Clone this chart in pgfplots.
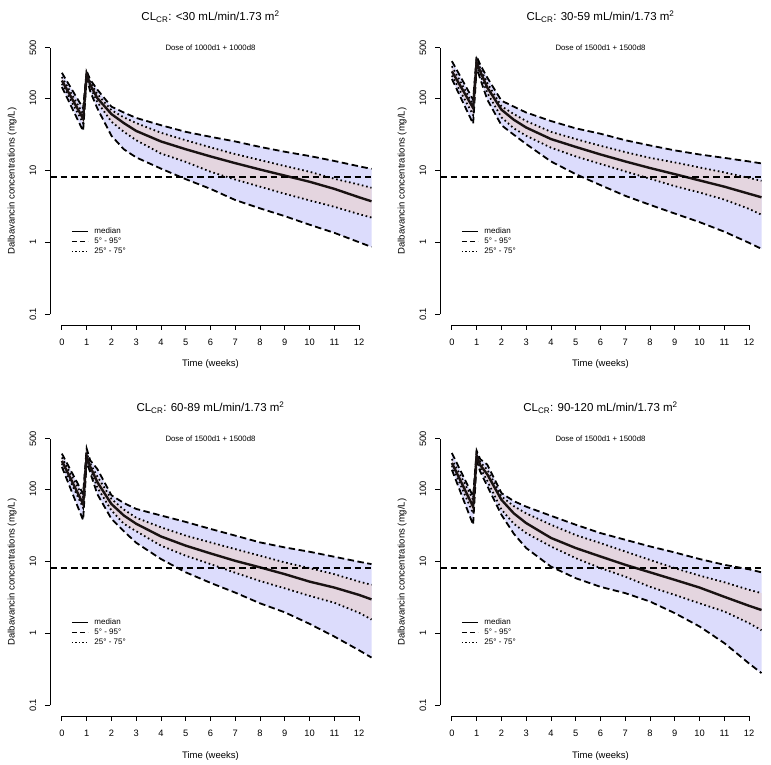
\documentclass[border=0pt]{standalone}
\usepackage{fontspec}
\setmainfont{Liberation Sans}
\usepackage{pgfplots}
\pgfplotsset{compat=1.18}
\usepackage{pgfplotstable}
\usepgfplotslibrary{fillbetween}

\definecolor{lav}{RGB}{220,220,252}
\definecolor{pinkb}{RGB}{228,213,223}
\definecolor{med}{RGB}{25,18,18}

\pgfplotstableread{
t q05 q25 q50 q75 q95
0 142 158 175 196 224
0.857 35 45 52 60 72
1 190 204 215 224 236
1.143 124 142 153 166 180
1.43 72 88 100 114 131
2 30 47 60 68 76
2.5 19.5 34 45 54 63
3 15 26 35 45 53
4 10.5 17 25 33 42
5 7.5 13 19.5 26 34
6 5.5 9.5 15.5 20.7 29
7 3.85 7.4 12.5 16.7 25
8 2.95 5.9 10.2 13.8 21
9 2.3 4.7 8.4 11.4 18
10 1.75 3.8 6.9 9.5 15.7
11 1.35 3.1 5.5 7.6 13.4
12 1.0 2.45 4.2 6.3 11.3
12.5 0.86 2.2 3.7 5.7 10.4
}\TLdata

\pgfplotstableread{
t q05 q25 q50 q75 q95
0 184 205 235 276 325
0.857 44 58 73 81 95
1 263 292 315 343 380
1.143 185 212 235 258 290
1.43 95 118 140 162 192
2 42 54 69 77 92
2.5 31 38 50 60 76
3 23 30 39 48 63
4 13.2 20.5 27 34 48
5 8.8 15.5 21 27 38
6 6.2 12.2 16.5 21.8 32
7 4.4 9.6 13.2 17.8 26
8 3.3 7.6 10.7 14.8 22
9 2.5 6.0 8.8 12.8 18.8
10 1.9 4.9 7.2 10.9 16.5
11 1.4 3.9 5.9 9.3 14.8
12 0.98 2.9 4.7 7.8 13.2
12.5 0.81 2.4 4.2 7.1 12.4
}\TRdata

\pgfplotstableread{
t q05 q25 q50 q75 q95
0 203 226 246 274 310
0.857 37 55 62 77 86
1 238 265 286 318 365
1.143 170 190 205 225 250
1.43 85 105 125 150 190
2 38.6 50.5 62 73 82
2.5 26 33 43 52 64
3 18 26 33 40 53
4 10.7 16.4 22 29.5 43
5 7.0 11.9 16.4 22.6 35
6 5.0 9.1 12.8 18.2 28
7 3.66 6.9 10.1 14.7 22.6
8 2.6 5.3 8.2 11.9 18.2
9 1.95 4.2 6.6 9.6 15.5
10 1.35 3.3 5.2 8.0 13.5
11 0.9 2.65 4.3 6.6 11.5
12 0.58 1.92 3.4 5.2 9.8
12.5 0.46 1.55 2.95 4.7 9.1
}\BLdata

\pgfplotstableread{
t q05 q25 q50 q75 q95
0 185 211 230 261 316
0.857 32 46 57 71 79
1 242 269 290 316 340
1.143 175 195 215 235 260
1.43 110 130 160 186 218
2 44 52 71 79 88
2.5 24 33 46 58 68
3 15.2 24.5 33.7 46 57
4 8.4 16 21 32 42.6
5 5.8 11 15.2 23 32
6 4.4 8.0 11.6 17.8 24.5
7 3.6 6.1 8.9 13.6 19.8
8 2.75 4.4 7.0 10.4 16
9 1.9 3.4 5.5 8.0 13.2
10 1.24 2.6 4.3 6.3 10.7
11 0.73 2.0 3.2 5.1 8.9
12 0.38 1.38 2.4 4.0 7.7
12.5 0.28 1.1 2.1 3.6 7.0
}\BRdata

\tikzset{
  qdash/.style={black, line width=1.8pt, dash pattern=on 6.5pt off 3.5pt},
  qdot/.style={black, line width=1.8pt, dash pattern=on 1.6pt off 2.8pt},
  qmed/.style={med, line width=2.4pt},
}

\pgfplotsset{
  legend image code/.code={\draw[#1] (0pt,0pt) -- (16pt,0pt); \path (21pt,0pt);},
}

% #1 x position, #2 y position, #3 title range, #4 data table, #5 dose text
\newcommand\panel[5]{%
\begin{axis}[
    at={(#1,#2)}, anchor=south west,
    scale only axis, width=321pt, height=288pt,
    xmin=-0.48, xmax=12.48,
    ymode=log, ymin=0.07112, ymax=703,
    clip=false,
    axis line style={draw=none},
    tick align=outside, xtick pos=left, ytick pos=left,
    major tick length=5pt,
    tick style={black, line width=0.8pt},
    xtick={0,1,2,3,4,5,6,7,8,9,10,11,12},
    xticklabels={0,1,2,3,4,5,6,7,8,9,10,11,12},
    ytick={0.1,1,10,100,500},
    yticklabels={0.1,1,10,100,500},
    minor tick num=0,
    tick label style={font=\fontsize{9.3}{9.3}\selectfont},
    xticklabel style={anchor=base},
    xticklabel shift=15.7pt,
    yticklabel style={rotate=90, anchor=base},
    yticklabel shift=9pt,
    xlabel={Time (weeks)},
    ylabel={Dalbavancin concentrations (mg/L)},
    label style={font=\fontsize{9.5}{9.5}\selectfont},
    xlabel style={at={([yshift=-42pt]axis description cs:0.5,0)}, anchor=base},
    ylabel style={at={([xshift=-35.5pt]axis description cs:0,0.5)}, anchor=base},
    title={CL\textsubscript{CR}: #3 mL/min/1.73 m\textsuperscript{2}},
    title style={at={([yshift=16.3pt]axis description cs:0.5,1)}, anchor=base,
                 yshift=-6pt, font=\fontsize{11.5}{11.5}\selectfont},
    legend cell align=left,
    legend style={at={(0.066,0.344)}, anchor=north west, draw=none, fill=none,
      inner sep=0pt, row sep=0pt, font=\fontsize{8}{8}\selectfont,
      nodes={inner sep=1pt, text height=6pt, text depth=2pt}},
  ]
  \addplot[name path=u95, draw=none, forget plot] table[x=t,y=q95]{#4};
  \addplot[name path=l05, draw=none, forget plot] table[x=t,y=q05]{#4};
  \addplot[name path=u75, draw=none, forget plot] table[x=t,y=q75]{#4};
  \addplot[name path=l25, draw=none, forget plot] table[x=t,y=q25]{#4};
  \addplot[lav, forget plot] fill between[of=u95 and l05];
  \addplot[pinkb, forget plot] fill between[of=u75 and l25];
  \addplot[qdash, forget plot] table[x=t,y=q95]{#4};
  \addplot[qdash, forget plot] table[x=t,y=q05]{#4};
  \addplot[qdot, forget plot] table[x=t,y=q75]{#4};
  \addplot[qdot, forget plot] table[x=t,y=q25]{#4};
  \addplot[qmed, forget plot] table[x=t,y=q50]{#4};
  \addplot[black, line width=1.3pt, dash pattern=on 6.5pt off 4pt, forget plot]
     coordinates {(-0.48,8) (12.48,8)};
  \draw[black, line width=0.8pt] (axis cs:-0.48,0.1) -- (axis cs:-0.48,500);
  \draw[black, line width=0.8pt] (axis cs:0,0.07112) -- (axis cs:12,0.07112);
  \node[font=\fontsize{7.8}{7.8}\selectfont] at (axis cs:6,500) {#5};
  \addlegendimage{black, line width=1.1pt}
  \addlegendentry{median}
  \addlegendimage{black, line width=1.1pt, dash pattern=on 5pt off 3pt}
  \addlegendentry{5° - 95°}
  \addlegendimage{black, line width=1.1pt, dash pattern=on 1.3pt off 2.2pt}
  \addlegendentry{25° - 75°}
\end{axis}}

\begin{document}
\begin{tikzpicture}
\panel{50pt}{439pt}{<30}{\TLdata}{Dose of 1000d1 + 1000d8}
\panel{440pt}{439pt}{30-59}{\TRdata}{Dose of 1500d1 + 1500d8}
\panel{50pt}{48pt}{60-89}{\BLdata}{Dose of 1500d1 + 1500d8}
\panel{440pt}{48pt}{90-120}{\BRdata}{Dose of 1500d1 + 1500d8}
\pgfresetboundingbox
\path[use as bounding box] (0,0) rectangle (771pt,764pt);
\end{tikzpicture}
\end{document}
